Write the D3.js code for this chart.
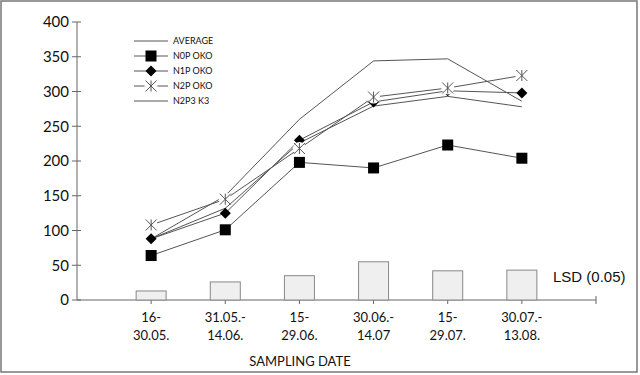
<!DOCTYPE html>
<html>
<head>
<meta charset="utf-8">
<script src="https://cdn.jsdelivr.net/npm/d3@7"></script>
<style>
  body { margin: 0; background: #fff; }
  svg text { font-family: Lato, "DejaVu Sans", sans-serif; fill: #111; }
</style>
</head>
<body>
<svg id="chart" width="640" height="375"></svg>
<script>
// ---- data ----
const dateTop = ["16-", "31.05.-", "15-", "30.06.-", "15-", "30.07.-"];
const dateBottom = ["30.05.", "14.06.", "29.06.", "14.07", "29.07.", "13.08."];
const lsd = [13, 26, 35, 55, 42, 43];
const average = [88, 150, 260, 344, 347, 286];
const n0p = [64, 101, 198, 190, 223, 204];
const n1p = [88, 125, 230, 285, 301, 298];
const n2p = [108, 145, 218, 292, 305, 323];
const n2p3k3 = [88, 132, 226, 279, 293, 278];
const yTicks = [0, 50, 100, 150, 200, 250, 300, 350, 400];

const series = [
  { name: "AVERAGE", values: average, marker: "none" },
  { name: "N0P OKO", values: n0p, marker: "square" },
  { name: "N1P OKO", values: n1p, marker: "diamond" },
  { name: "N2P OKO", values: n2p, marker: "star" },
  { name: "N2P3 K3", values: n2p3k3, marker: "none" }
];

const svg = d3.select("#chart");

// frame
svg.append("rect")
  .attr("x", 1).attr("y", 1).attr("width", 636).attr("height", 371)
  .attr("fill", "none").attr("stroke", "#777").attr("stroke-width", 1.5);

// ---- scales ----
const x = d3.scaleLinear().domain([0, 7]).range([77, 596]);
const y = d3.scaleLinear().domain([0, 400]).range([300, 22]);

// ---- y axis ----
const yAxis = svg.append("g");
yAxis.append("line")
  .attr("x1", x(0)).attr("x2", x(0)).attr("y1", y(0)).attr("y2", y(400))
  .attr("stroke", "#666");
yAxis.selectAll("line.tick").data(yTicks).join("line")
  .attr("class", "tick")
  .attr("x1", x(0) - 5).attr("x2", x(0) + 4)
  .attr("y1", d => y(d)).attr("y2", d => y(d))
  .attr("stroke", "#666");
yAxis.selectAll("text").data(yTicks).join("text")
  .attr("x", x(0) - 8).attr("y", d => y(d))
  .attr("dy", "0.36em")
  .attr("text-anchor", "end")
  .attr("font-size", 15)
  .text(d => d);

// ---- x axis ----
const xAxis = svg.append("g");
xAxis.append("line")
  .attr("x1", x(0)).attr("x2", x(7)).attr("y1", y(0)).attr("y2", y(0))
  .attr("stroke", "#666");
xAxis.selectAll("line.tick").data(d3.range(1, 8)).join("line")
  .attr("class", "tick")
  .attr("x1", d => x(d)).attr("x2", d => x(d))
  .attr("y1", y(0) - 4).attr("y2", y(0) + 4)
  .attr("stroke", "#666");

const labels = xAxis.selectAll("g.lab").data(dateTop).join("g").attr("class", "lab");
labels.append("text")
  .attr("x", (d, i) => x(i + 1)).attr("y", 322)
  .attr("text-anchor", "middle").attr("font-size", 13)
  .text(d => d);
labels.append("text")
  .attr("x", (d, i) => x(i + 1)).attr("y", 340)
  .attr("text-anchor", "middle").attr("font-size", 13)
  .text((d, i) => dateBottom[i]);

svg.append("text")
  .attr("x", 300).attr("y", 366)
  .attr("text-anchor", "middle").attr("font-size", 13)
  .text("SAMPLING DATE");

// ---- LSD bars ----
const barW = 30;
svg.append("g").selectAll("rect").data(lsd).join("rect")
  .attr("x", (d, i) => x(i + 1) - barW / 2)
  .attr("y", d => y(d))
  .attr("width", barW)
  .attr("height", d => y(0) - y(d))
  .attr("fill", "#efefef")
  .attr("stroke", "#888");

svg.append("text")
  .attr("x", 553).attr("y", 282)
  .style("font-family", "'Liberation Sans', Arial, sans-serif")
  .attr("font-size", 15)
  .text("LSD (0.05)");

// ---- lines ----
const line = d3.line().x((d, i) => x(i + 1)).y(d => y(d));
svg.append("g").selectAll("path").data(series).join("path")
  .attr("d", d => line(d.values))
  .attr("fill", "none")
  .attr("stroke", "#555")
  .attr("stroke-width", 1);

// ---- markers ----
function drawMarker(g, type, cx, cy) {
  if (type === "square") {
    g.append("rect").attr("x", cx - 5.5).attr("y", cy - 5.5)
      .attr("width", 11).attr("height", 11).attr("fill", "#000");
  } else if (type === "diamond") {
    g.append("path")
      .attr("d", `M${cx},${cy - 5.5}L${cx + 5.5},${cy}L${cx},${cy + 5.5}L${cx - 5.5},${cy}Z`)
      .attr("fill", "#000");
  } else if (type === "star") {
    const r = 5.5;
    g.append("circle").attr("cx", cx).attr("cy", cy).attr("r", 6.5).attr("fill", "#fff");
    g.append("path")
      .attr("d", `M${cx - r},${cy - r}L${cx + r},${cy + r}M${cx - r},${cy + r}L${cx + r},${cy - r}M${cx},${cy - r}L${cx},${cy + r}`)
      .attr("stroke", "#555").attr("stroke-width", 1).attr("fill", "none");
  }
}

const markerLayer = svg.append("g");
series.forEach(s => {
  if (s.marker === "none") return;
  s.values.forEach((v, i) => drawMarker(markerLayer, s.marker, x(i + 1), y(v)));
});

// ---- legend ----
const legendY = [41, 56, 71, 86, 101];
const legend = svg.append("g");
series.forEach((s, i) => {
  const ly = legendY[i];
  legend.append("line")
    .attr("x1", 134).attr("x2", 168).attr("y1", ly).attr("y2", ly)
    .attr("stroke", "#555");
  drawMarker(legend, s.marker, 151, ly);
  legend.append("text")
    .attr("x", 173).attr("y", ly).attr("dy", "0.35em")
    .attr("font-size", 9)
    .text(s.name);
});
</script>
</body>
</html>
